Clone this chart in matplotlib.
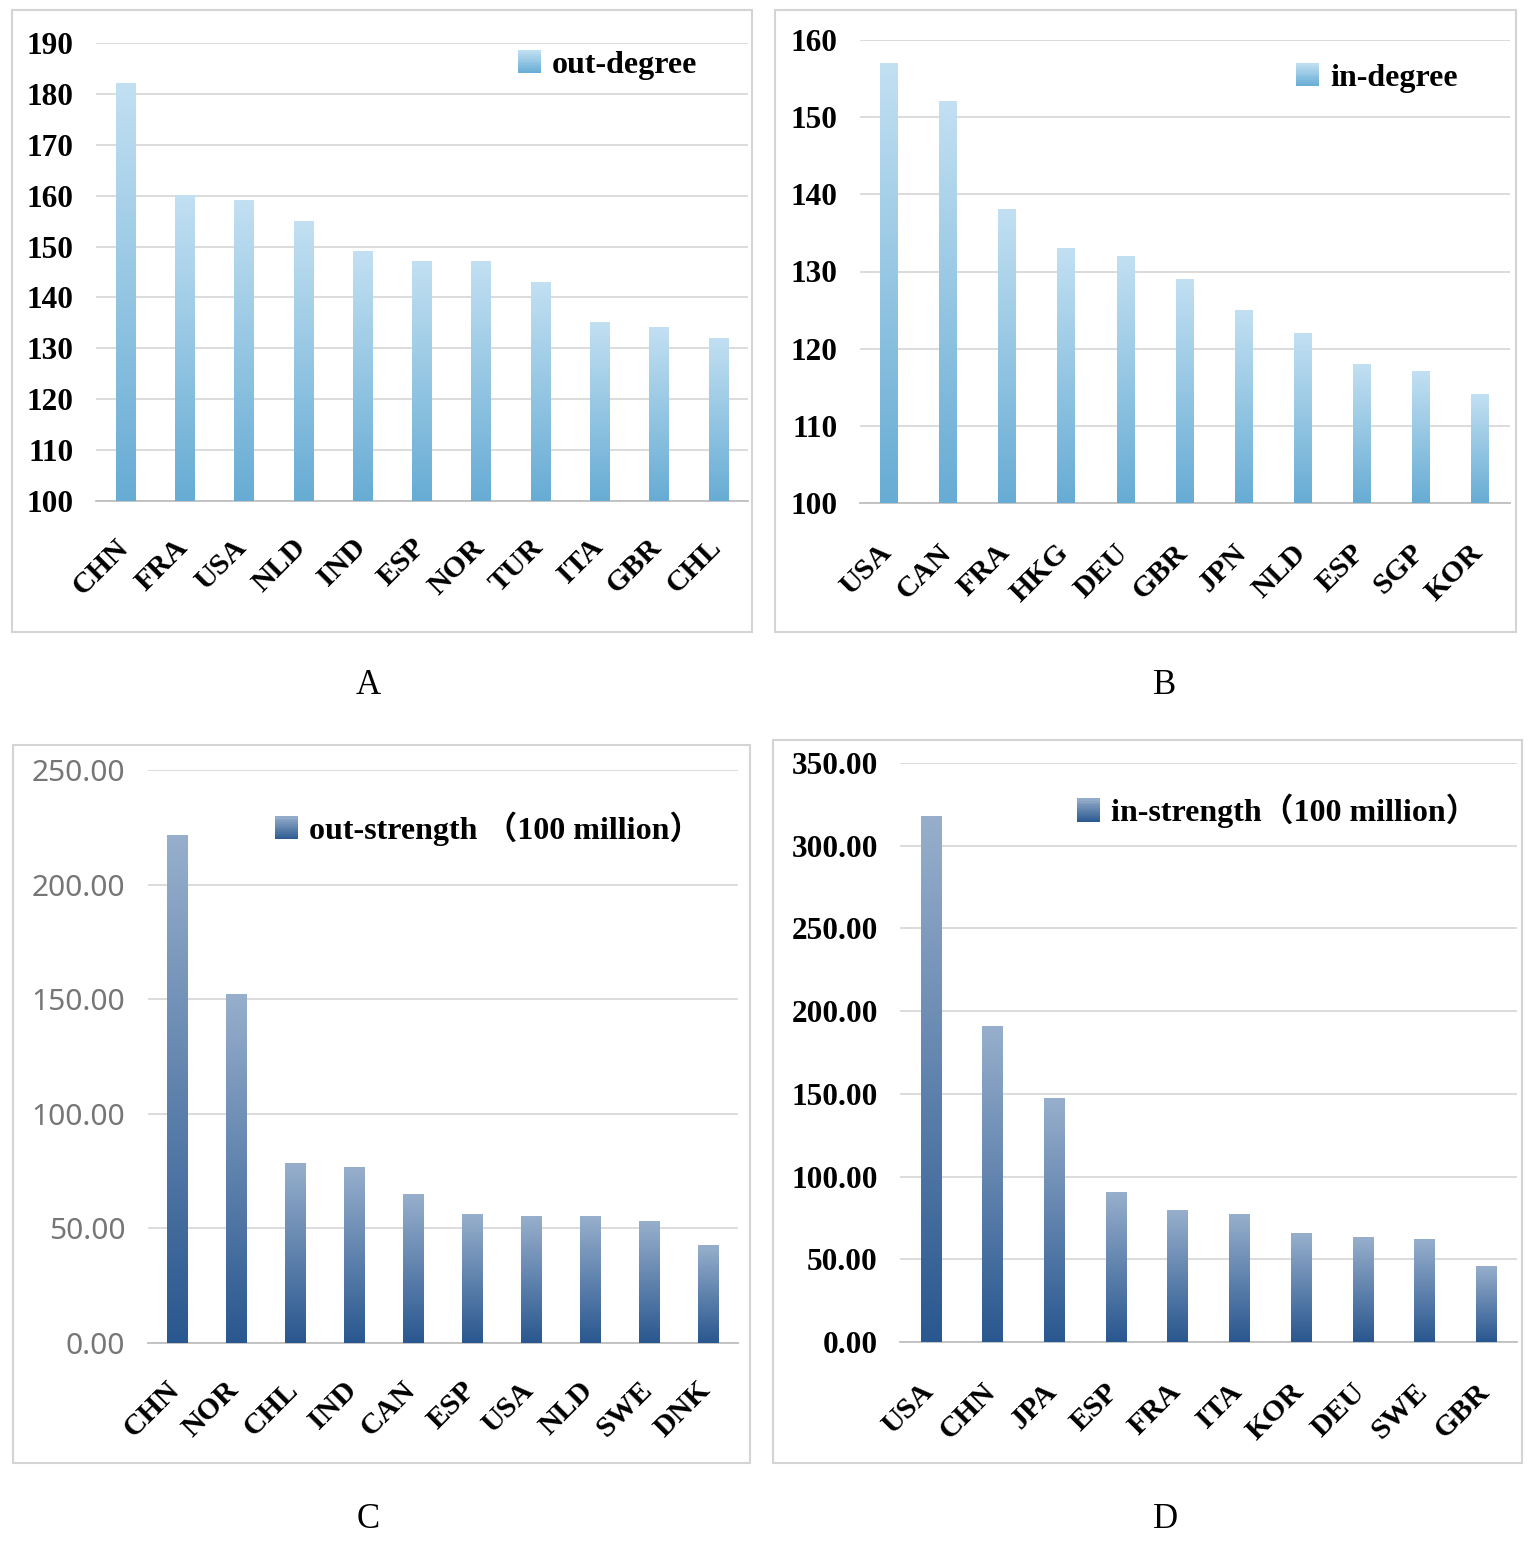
import numpy as np
import matplotlib
matplotlib.use("Agg")
import matplotlib.pyplot as plt
from matplotlib.patches import Rectangle, Patch
from matplotlib.legend_handler import HandlerBase
from matplotlib.colors import LinearSegmentedColormap
from matplotlib.font_manager import FontProperties
from matplotlib.transforms import ScaledTranslation

# data
a_countries = ["CHN", "FRA", "USA", "NLD", "IND", "ESP", "NOR", "TUR", "ITA", "GBR", "CHL"]
a_values = [182, 160, 159, 155, 149, 147, 147, 143, 135, 134, 132]

b_countries = ["USA", "CAN", "FRA", "HKG", "DEU", "GBR", "JPN", "NLD", "ESP", "SGP", "KOR"]
b_values = [157, 152, 138, 133, 132, 129, 125, 122, 118, 117, 114]

c_countries = ["CHN", "NOR", "CHL", "IND", "CAN", "ESP", "USA", "NLD", "SWE", "DNK"]
c_values = [221.6, 152.0, 78.5, 76.5, 64.7, 56.0, 55.0, 55.0, 53.2, 42.4]

d_countries = ["USA", "CHN", "JPA", "ESP", "FRA", "ITA", "KOR", "DEU", "SWE", "GBR"]
d_values = [317.5, 191.0, 147.4, 90.4, 79.6, 76.8, 65.8, 63.2, 61.8, 45.4]

W, H = 1535, 1551
SERIF = "Liberation Serif"

light_blue = LinearSegmentedColormap.from_list("lb", ["#67acd4", "#c2e0f2"])
dark_blue = LinearSegmentedColormap.from_list("db", ["#29578f", "#97afcc"])


class GradientHandler(HandlerBase):
    def __init__(self, cmap):
        super().__init__()
        self.cmap = cmap

    def create_artists(self, legend, orig_handle, xdescent, ydescent,
                       width, height, fontsize, trans):
        side = min(width, height)
        x0 = -xdescent + (width - side) / 2
        y0 = -ydescent + (height - side) / 2
        n = 12
        arts = []
        for i in range(n):
            r = Rectangle((x0, y0 + side * i / n), side, side / n + 0.3,
                          facecolor=self.cmap((i + 0.5) / n), edgecolor="none",
                          transform=trans)
            arts.append(r)
        return arts


def fig_rect(x0, y0, x1, y1):
    # pixel box (top-left origin) -> figure fraction rect
    return [x0 / W, 1 - y1 / H, (x1 - x0) / W, (y1 - y0) / H]


def draw_panel(fig, rect, box, cats, vals, ymin, ymax, step, width, cmap,
               fmt, label, leg_xy, letter, letter_xy, tick_font, xpad):
    fig.add_artist(Rectangle((box[0] / W, 1 - box[3] / H),
                             (box[2] - box[0]) / W, (box[3] - box[1]) / H,
                             transform=fig.transFigure, fill=False,
                             edgecolor="#d4d4d4", linewidth=1.5))
    ax = fig.add_axes(fig_rect(*rect))
    x = np.arange(len(cats))
    heights = [v - ymin for v in vals]
    bars = ax.bar(x, heights, width=width, bottom=ymin, color="none", zorder=3)
    grad = np.linspace(0, 1, 256).reshape(-1, 1)
    for b in bars:
        ax.imshow(grad, extent=[b.get_x(), b.get_x() + b.get_width(),
                                b.get_y(), b.get_y() + b.get_height()],
                  origin="lower", aspect="auto", cmap=cmap, zorder=3)
    ax.set_xlim(-0.5, len(cats) - 0.5)
    ax.set_ylim(ymin, ymax)
    ax.set_yticks(np.arange(ymin, ymax + step / 2, step))
    ax.yaxis.set_major_formatter(matplotlib.ticker.FormatStrFormatter(fmt))
    ax.grid(axis="y", color="#d9d9d9", linewidth=1.3, zorder=0)
    for s in ["top", "right", "left"]:
        ax.spines[s].set_visible(False)
    ax.spines["bottom"].set_color("#bfbfbf")
    ax.spines["bottom"].set_linewidth(1.3)
    ax.tick_params(axis="both", length=0)
    ax.tick_params(axis="y", pad=16)
    ax.tick_params(axis="x", pad=xpad)
    ax.set_xticks(x)
    ax.set_xticklabels(cats, rotation=45, ha="right", va="top",
                       rotation_mode="anchor", fontfamily=SERIF,
                       fontweight="bold", fontsize=21.5)
    shift = ScaledTranslation(-11 / 100, 0, fig.dpi_scale_trans)
    for t in ax.get_xticklabels():
        t.set_transform(t.get_transform() + shift)
    for t in ax.get_yticklabels():
        t.set_fontproperties(tick_font)
        if tick_font.get_family()[0] != SERIF:
            t.set_color("#767676")
    handle = Patch(label=label)
    prop = FontProperties(family=[SERIF, "Noto Sans CJK SC"], weight="bold", size=23)
    ax.legend(handles=[handle], loc="center left", bbox_to_anchor=leg_xy,
              frameon=False, borderpad=0, borderaxespad=0, handlelength=0.72,
              handleheight=0.72, handletextpad=0.35, prop=prop,
              handler_map={handle: GradientHandler(cmap)})
    fig.text(letter_xy[0] / W, 1 - letter_xy[1] / H, letter, ha="center",
             va="center", fontfamily=SERIF, fontsize=25)
    return ax


fig = plt.figure(figsize=(W / 100, H / 100), dpi=100)

serif_bold = FontProperties(family=SERIF, weight="bold", size=22.5)
sans_light = FontProperties(family="Noto Sans", weight="light", size=21.5)

draw_panel(fig, (96, 43, 748, 501), (12, 10, 752, 632), a_countries, a_values,
           100, 190, 10, 0.33, light_blue, "%d", "out-degree",
           (0.647, 0.952), "A", (368, 685), serif_bold, 23.5)
draw_panel(fig, (859.5, 40, 1509.5, 503), (775, 10, 1516, 632), b_countries, b_values,
           100, 160, 10, 0.30, light_blue, "%d", "in-degree",
           (0.672, 0.918), "B", (1165, 685), serif_bold, 26)
draw_panel(fig, (147.5, 770, 737.5, 1343), (13, 745, 750, 1463), c_countries, c_values,
           0, 250, 50, 0.34, dark_blue, "%.2f", "out-strength （100 million）",
           (0.216, 0.897), "C", (368, 1520), sans_light, 24)
draw_panel(fig, (900, 763, 1517, 1342), (773, 740, 1522, 1463), d_countries, d_values,
           0, 350, 50, 0.33, dark_blue, "%.2f", "in-strength（100 million）",
           (0.287, 0.917), "D", (1165, 1520), serif_bold, 26)

fig.savefig("out.png", dpi=100, facecolor="white")
